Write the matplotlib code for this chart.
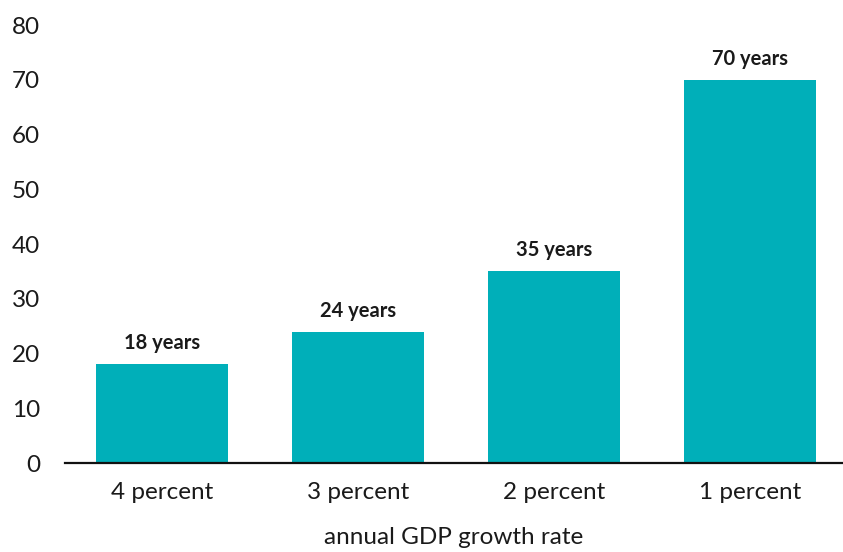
import matplotlib
matplotlib.use("Agg")
import matplotlib.pyplot as plt

categories = ["4 percent", "3 percent", "2 percent", "1 percent"]
values = [18, 24, 35, 70]
value_labels = ["18 years", "24 years", "35 years", "70 years"]
y_ticks = [0, 10, 20, 30, 40, 50, 60, 70, 80]

plt.rcParams['font.family'] = ['Lato', 'DejaVu Sans']

fig = plt.figure(figsize=(8.43, 5.52), dpi=100)
ax = fig.add_axes([0.0771, 0.1612, 0.9229, 0.7935])

x = list(range(len(categories)))
bars = ax.bar(x, values, width=0.67, color="#00AFB9", zorder=2)
for xi, v, lab in zip(x, values, value_labels):
    ax.annotate(lab, (xi, v), xytext=(0, 8), textcoords="offset points",
                ha="center", va="bottom", fontsize=14.5, fontweight="bold",
                color="#1a1a1a")

ax.set_xlim(-0.495, 3.474)
ax.set_ylim(0, 80)
ax.set_yticks(y_ticks)
ax.set_xticks(x)
ax.set_xticklabels(categories)
ax.tick_params(axis="both", length=0, labelsize=17.5, colors="#1a1a1a")
ax.tick_params(axis="y", pad=18)
ax.tick_params(axis="x", pad=14)
for lab in ax.get_yticklabels():
    lab.set_horizontalalignment("right")
for s in ["top", "right", "left"]:
    ax.spines[s].set_visible(False)
ax.spines["bottom"].set_linewidth(1.6)
ax.spines["bottom"].set_color("#111111")
ax.spines["bottom"].set_zorder(3)
ax.set_xlabel("annual GDP growth rate", fontsize=17.5, color="#1a1a1a", labelpad=17)

fig.savefig("out.png", dpi=100)
